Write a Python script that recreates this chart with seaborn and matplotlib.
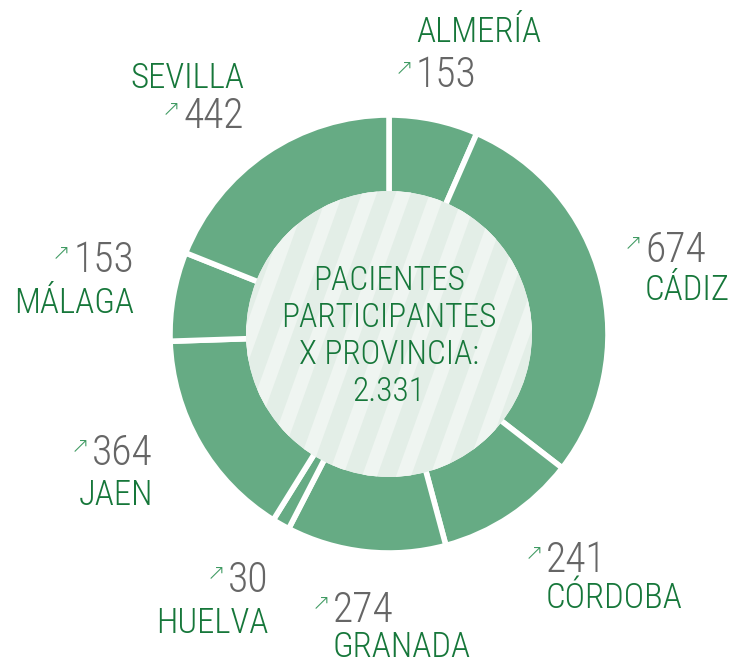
import numpy as np
import matplotlib
matplotlib.use("Agg")
import matplotlib.pyplot as plt
import seaborn as sns
from matplotlib import font_manager
from matplotlib.patches import Circle, Polygon

# Data
provinces = ["ALMERÍA", "CÁDIZ", "CÓRDOBA", "GRANADA", "HUELVA", "JAEN", "MÁLAGA", "SEVILLA"]
patients = [153, 674, 241, 274, 30, 364, 153, 442]
center_title = ["PACIENTES", "PARTICIPANTES", "X PROVINCIA:"]

# Colors
SLICE_COLOR = '#66ab84'
NAME_COLOR = '#16773a'
NUMBER_COLOR = '#666666'
ARROW_COLOR = '#3f9a62'
DISC_COLOR = '#e3eee7'
STRIPE_COLOR = '#eff5f1'

# Layout (pixels, origin top-left): x, number baseline, name baseline, alignment
LABEL_POS = {
    "ALMERÍA": (416, 87, 42, 'left'),
    "CÁDIZ": (645, 262, 300, 'left'),
    "CÓRDOBA": (546, 572, 608, 'left'),
    "GRANADA": (333, 622, 657, 'left'),
    "HUELVA": (269, 592, 633, 'right'),
    "JAEN": (153, 465, 505, 'right'),
    "MÁLAGA": (134, 272, 313, 'right'),
    "SEVILLA": (244, 128, 88, 'right'),
}

W, H = 735, 663
CX, CY = 389, H - 334
R_OUT, R_IN = 219, 140

sns.set_theme(style="white")
available = {f.name for f in font_manager.fontManager.ttflist}
FONT = next((f for f in ["Roboto Condensed", "Liberation Sans Narrow", "DejaVu Sans"] if f in available), "DejaVu Sans")
plt.rcParams['font.family'] = [FONT, 'DejaVu Sans']
plt.rcParams['font.weight'] = 'light'

fig = plt.figure(figsize=(W / 100, H / 100), dpi=100)
ax = fig.add_axes([0, 0, 1, 1])

ax.pie(patients, colors=[SLICE_COLOR] * len(patients), startangle=90, counterclock=False,
       center=(CX, CY), radius=R_OUT,
       wedgeprops=dict(width=R_OUT - R_IN, edgecolor='white', linewidth=4))
ax.set_xlim(0, W)
ax.set_ylim(0, H)
ax.set_aspect('equal')
ax.axis('off')

# center disc with diagonal stripes (covers the inner white edge of the ring)
disc = Circle((CX, CY), R_IN + 3, facecolor=DISC_COLOR, edgecolor='none', zorder=3)
ax.add_patch(disc)
slope = 0.36  # horizontal shift per vertical pixel
bot, top = CY - R_IN - 5, CY + R_IN + 5
for x0 in np.arange(CX - 300, CX + 300, 34):
    pts = [(x0, bot), (x0 + 15, bot),
           (x0 + 15 + (top - bot) * slope, top), (x0 + (top - bot) * slope, top)]
    stripe = Polygon(pts, closed=True, facecolor=STRIPE_COLOR, edgecolor='none', zorder=4)
    ax.add_patch(stripe)
    stripe.set_clip_path(disc)

center_text = center_title + [f"{sum(patients):,}".replace(",", ".")]
for i, line in enumerate(center_text):
    ax.text(CX, H - (290 + i * 37), line, ha='center', va='baseline', fontsize=24,
            color=NAME_COLOR, zorder=5)

for name, value in zip(provinces, patients):
    x, num_y, name_y, side = LABEL_POS[name]
    ax.text(x, H - name_y, name, ha=side, va='baseline', fontsize=25, color=NAME_COLOR)
    num = ax.text(x, H - num_y, str(value), ha=side, va='baseline', fontsize=30,
                  color=NUMBER_COLOR)
    # small arrow just before the number
    ax.annotate("↗", xy=(0, 1), xycoords=num, xytext=(-2, -2), textcoords='offset points',
                ha='right', va='top', fontsize=16, color=ARROW_COLOR, family='DejaVu Sans')

fig.savefig("out.png", dpi=100)
